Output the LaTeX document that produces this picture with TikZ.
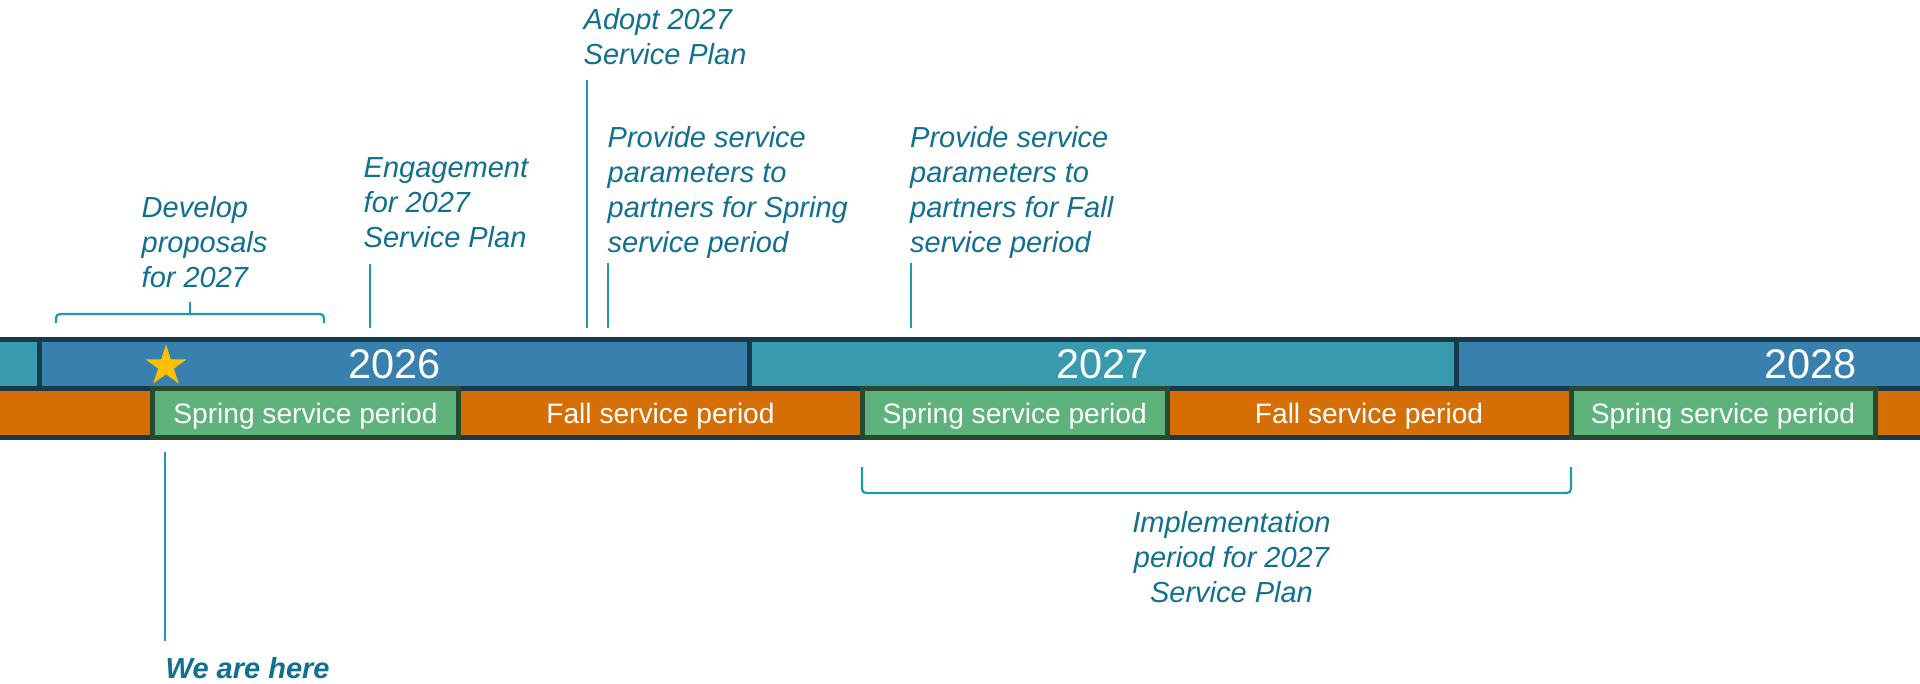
\documentclass[tikz,border=0pt]{standalone}
\usepackage{fontspec}
\setmainfont{Liberation Sans}
\definecolor{yrblue}{HTML}{3881AE}
\definecolor{yrteal}{HTML}{389BAD}
\definecolor{bardark}{HTML}{163A4A}
\definecolor{fallorange}{HTML}{D56F05}
\definecolor{springgreen}{HTML}{5EB37C}
\definecolor{greendark}{HTML}{27492F}
\definecolor{notetext}{HTML}{11708F}
\definecolor{tickteal}{HTML}{1A9CAB}
\definecolor{stargold}{HTML}{FFC000}
\usetikzlibrary{shapes.geometric,positioning}

\begin{document}
\begin{tikzpicture}[
  x=0.1mm, y=-0.1mm,
  yearbox/.style={draw=bardark, fill=#1, line width=0.5mm, inner sep=0pt,
    minimum height=4.91mm, text=white, font=\fontsize{11.8}{14}\selectfont},
  periodbox/.style={draw=#1, line width=0.5mm, inner sep=0pt,
    minimum height=4.9mm, text=white, text depth=0pt,
    font=\fontsize{8}{10}\selectfont},
  fallbox/.style={periodbox=bardark, fill=fallorange},
  springbox/.style={periodbox=greendark, fill=springgreen},
  note/.style={inner sep=0pt, text=notetext, align=left,
    font=\fontsize{8.25}{9.96}\selectfont\itshape},
  tick/.style={draw=tickteal, line width=0.2mm},
  bracket/.style={draw=tickteal, line width=0.22mm, rounded corners=0.4mm}
]
  \clip (0,0) rectangle (1920,683);

  % Year row
  \node[yearbox=yrteal, minimum width=13.95mm] (yr25) at (-30.25,363.75) {};
  \node[yearbox=yrblue, minimum width=70.95mm] (yr26) at (394.25,363.75) {2026};
  \node[yearbox=yrteal, minimum width=70.75mm] (yr27) at (1102.75,363.75) {2027};
  \node[yearbox=yrblue, minimum width=70.85mm] (yr28) at (1810.75,363.75) {2028};

  % Service periods
  \node[fallbox, minimum width=25.25mm] (fall25) at (26.25,413) {};
  \node[fallbox, minimum width=40.4mm] (fall26) at (660.5,413) {Fall service period};
  \node[fallbox, minimum width=40.4mm] (fall27) at (1369,413) {Fall service period};
  \node[fallbox, minimum width=32.5mm] (fall28) at (2037.5,413) {};
  \node[springbox, minimum width=30.6mm] (spring26) at (305.5,413) {Spring service period};
  \node[springbox, minimum width=30.45mm] (spring27) at (1014.75,413) {Spring service period};
  \node[springbox, minimum width=30.4mm] (spring28) at (1723,413) {Spring service period};

  % Today marker
  \node[star, star points=5, star point ratio=2.618, fill=stargold,
    inner sep=0pt, minimum size=4.3mm] (today) at (166,366) {};

  % Annotations above
  \node[note, anchor=north west] (develop) at (141,196) {Develop\\proposals\\for 2027};
  \node[note, anchor=north west] (engage) at (363,157) {Engagement\\for 2027\\Service Plan};
  \node[note, anchor=north west] (adopt) at (583,8) {Adopt 2027\\Service Plan};
  \node[note, anchor=north west] (springparam) at (607,126) {Provide service\\parameters to\\partners for Spring\\service period};
  \node[note, anchor=north west] (fallparam) at (909.5,126) {Provide service\\parameters to\\partners for Fall\\service period};

  % Annotations below
  \node[note, anchor=north, align=center] (impl) at (1231.5,511) {Implementation\\period for 2027\\Service Plan};
  \node[note, anchor=north west, font=\fontsize{8.25}{9.96}\selectfont\bfseries\itshape] (here) at (165,657) {We are here};

  % Tick lines
  \coordinate (engtop) at (370,264);
  \coordinate (engbot) at (370,328);
  \coordinate (adopttop) at (587,80);
  \coordinate (adoptbot) at (587,328);
  \coordinate (sptop) at (608,263);
  \coordinate (spbot) at (608,328);
  \coordinate (fptop) at (910.5,263);
  \coordinate (fpbot) at (910.5,328);
  \coordinate (heretop) at (165,452);
  \coordinate (herebot) at (165,641);
  \draw[tick] (engtop) -- (engbot);
  \draw[tick] (adopttop) -- (adoptbot);
  \draw[tick] (sptop) -- (spbot);
  \draw[tick] (fptop) -- (fpbot);
  \draw[tick] (heretop) -- (herebot);

  % Brackets
  \draw[bracket] (56,323) -- (56,314) -- (324,314) -- (324,323);
  \draw[tick] (190,314) -- (190,302);
  \draw[bracket] (862,467) -- (862,493) -- (1571,493) -- (1571,467);
\end{tikzpicture}
\end{document}
